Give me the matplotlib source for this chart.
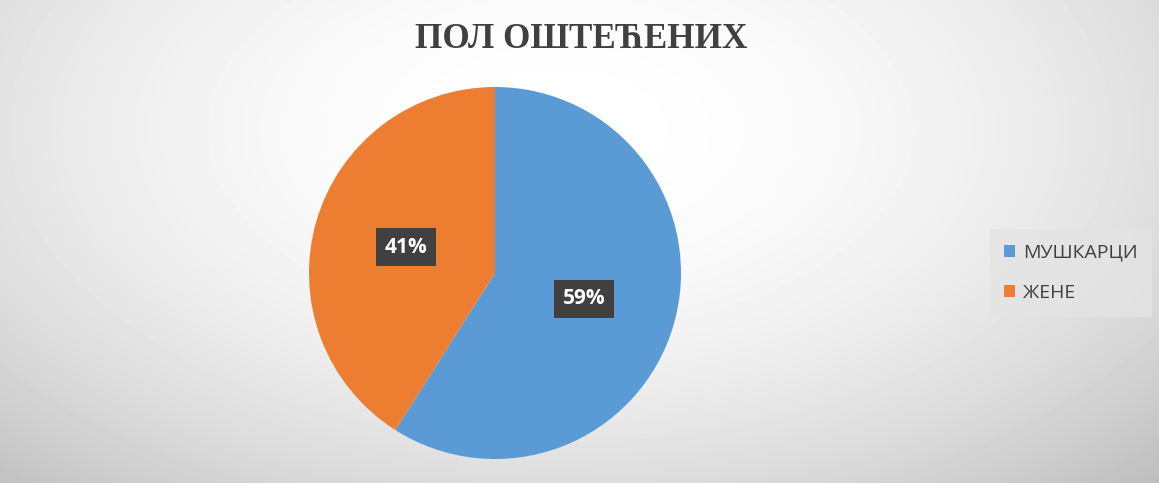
import numpy as np
import matplotlib
matplotlib.use('Agg')
import matplotlib.pyplot as plt
from matplotlib.patches import Patch

# podaci
labels = ['МУШКАРЦИ', 'ЖЕНЕ']
values = [59, 41]
colors = ['#5b9bd5', '#ed7d31']
title = 'ПОЛ ОШТЕЋЕНИХ'

fig = plt.figure(figsize=(11.59, 4.83), dpi=100)

# radijalni gradijent u pozadini
bg = fig.add_axes([0, 0, 1, 1])
yy, xx = np.mgrid[0:483, 0:1159]
d2 = ((xx - 560) / 760.0) ** 2 + ((yy - 130) / 430.0) ** 2
shade = 1.0 - 0.2 * d2
bg.imshow(shade, cmap='gray', vmin=0, vmax=1, aspect='auto', extent=[0, 1, 0, 1], origin='upper')
bg.set_axis_off()

# pita
ax = fig.add_axes([(495 - 186) / 1159, (483 - 273 - 186) / 483, 372 / 1159, 372 / 483])
wedges, texts = ax.pie(values, colors=colors, startangle=90, counterclock=False,
                       labels=[f'{v}%' for v in values], labeldistance=0.5,
                       wedgeprops=dict(linewidth=0))
ax.set_xlim(-1, 1)
ax.set_ylim(-1, 1)
for t in texts:
    t.set_horizontalalignment('center')
    t.set_color('white')
    t.set_fontsize(15)
    t.set_fontweight('bold')
    t.set_fontfamily('Open Sans')
    t.set_bbox(dict(boxstyle='square,pad=0.42', facecolor='#404040', edgecolor='none'))
ax.set_aspect('equal')

fig.text(581 / 1159, 1 - 39 / 483, title, ha='center', va='center', fontsize=25.3,
         fontweight='bold', family='Liberation Serif', color='#404040')

handles = [Patch(facecolor=c, edgecolor='none') for c in colors]
leg = fig.legend(handles, labels, loc='center', bbox_to_anchor=(1071 / 1159, 1 - 273 / 483),
                 frameon=True, fancybox=False, handlelength=0.55, handleheight=0.55,
                 handletextpad=0.4, labelspacing=1.15, borderpad=0.75,
                 prop={'family': 'Open Sans', 'size': 14})
leg.get_frame().set_facecolor('#e4e4e4')
leg.get_frame().set_edgecolor('none')
leg.get_frame().set_alpha(0.8)
for t in leg.get_texts():
    t.set_color('#404040')

fig.savefig('out.png', dpi=100)
